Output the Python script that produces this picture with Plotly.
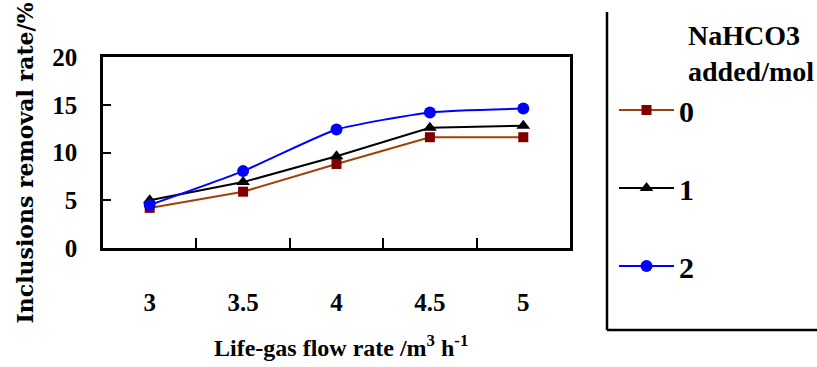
import plotly.graph_objects as go

flow_rate = ["3", "3.5", "4", "4.5", "5"]
series_names = ["0", "1", "2"]
removal_0 = [4.2, 5.9, 8.8, 11.6, 11.6]
removal_1 = [5.0, 6.9, 9.6, 12.6, 12.8]
removal_2 = [4.5, 8.05, 12.4, 14.2, 14.6]
y_ticks = [0, 5, 10, 15, 20]

FONT = "Liberation Serif, Times New Roman, serif"

fig = go.Figure()
fig.add_trace(go.Scatter(
    x=flow_rate, y=removal_0, name=series_names[0], legendgroup="a",
    mode="lines+markers",
    line=dict(color="#A0400A", width=2),
    marker=dict(symbol="square", size=10, color="#800000"),
))
fig.add_trace(go.Scatter(
    x=flow_rate, y=removal_1, name=series_names[1], legendgroup="b",
    mode="lines+markers",
    line=dict(color="#000000", width=2),
    marker=dict(symbol="triangle-up", size=12, color="#000000"),
))
fig.add_trace(go.Scatter(
    x=flow_rate, y=removal_2, name=series_names[2], legendgroup="c",
    mode="lines+markers",
    line=dict(color="#0000FF", width=2, shape="spline", smoothing=0.5),
    marker=dict(symbol="circle", size=12, color="#0000FF"),
))

L, R, T, B = 103, 247, 57, 119
W, H = 817, 367
pw, ph = W - L - R, H - T - B

def px(x):
    return (x - L) / pw

def py(y):
    return (H - B - y) / ph

fig.update_layout(
    width=W, height=H,
    margin=dict(l=L, r=R, t=T, b=B, pad=0, autoexpand=False),
    paper_bgcolor="white", plot_bgcolor="white",
    font=dict(family=FONT, color="black"),
    showlegend=True,
    legend=dict(
        x=px(614), y=py(84), xanchor="left", yanchor="top",
        font=dict(family=FONT, size=30, color="black", weight="bold"),
        tracegroupgap=36, bgcolor="rgba(0,0,0,0)",
        itemwidth=55, maxheight=360,
    ),
    xaxis=dict(
        type="category", range=[-0.5, 4.5], showline=True, linecolor="black",
        linewidth=2.5, mirror=True, ticks="inside", ticklen=10, tickwidth=2,
        tickcolor="black", tickson="boundaries", showgrid=False, zeroline=False,
        tickfont=dict(family=FONT, size=25, color="black", weight="bold"),
        ticklabelstandoff=30,
    ),
    yaxis=dict(
        range=[0, 20], tickvals=y_ticks, showline=True, linecolor="black",
        linewidth=2.5, mirror=True, ticks="inside", ticklen=8, tickwidth=2,
        tickcolor="black", showgrid=False, zeroline=False,
        tickfont=dict(family=FONT, size=25, color="black", weight="bold"),
        ticklabelstandoff=18,
    ),
    annotations=[
        dict(text="Inclusions removal rate/%", textangle=-90,
             xref="paper", yref="paper", x=px(24), y=py(326),
             xanchor="center", yanchor="bottom", showarrow=False,
             font=dict(family="DejaVu Serif", size=22, color="black", weight="bold")),
        dict(text="Life-gas flow rate /m<sup>3</sup> h<sup>-1</sup>",
             xref="paper", yref="paper", x=px(341), y=py(346),
             xanchor="center", yanchor="middle", showarrow=False,
             font=dict(family=FONT, size=24, color="black", weight="bold")),
        dict(text="NaHCO3<br>added/mol", align="left",
             xref="paper", yref="paper", x=px(686), y=py(18),
             xanchor="left", yanchor="top", showarrow=False,
             font=dict(family=FONT, size=28, color="black", weight="bold")),
    ],
    shapes=[
        dict(type="line", xref="paper", yref="paper", x0=px(607), x1=px(607),
             y0=py(12), y1=py(330), line=dict(color="black", width=2.5)),
        dict(type="line", xref="paper", yref="paper", x0=px(607), x1=px(830),
             y0=py(330), y1=py(330), line=dict(color="black", width=2.5)),
    ],
)

fig.write_html(
    "out.html",
    config={"displayModeBar": False},
    post_script="document.body.style.margin='0';document.body.style.overflow='hidden';",
)
